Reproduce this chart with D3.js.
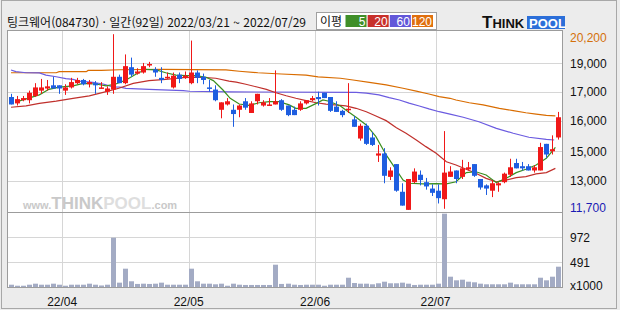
<!doctype html>
<html lang="ko">
<head>
<meta charset="utf-8">
<title>팅크웨어 일간 차트</title>
<script src="https://cdnjs.cloudflare.com/ajax/libs/d3/7.8.5/d3.min.js"></script>
<style>
  body { margin: 0; background: #ececec; }
  text { font-family: "Liberation Sans", "Noto Sans CJK KR", sans-serif; }
</style>
</head>
<body>
<svg width="620" height="310" id="svg"></svg>

<script>
// daily candles, 2022/03/21 ~ 2022/07/29 (92 trading days)
var openP = [17100,16800,16950,16950,17150,17400,17500,17650,17650,17400,
  17550,17750,17900,17700,17750,17500,17350,17450,18050,17750,
  18500,18200,18250,18600,18400,18000,18000,17550,18150,18000,
  17750,18250,18050,17550,17450,16500,16750,16500,16500,16900,
  16350,16900,16700,16700,16750,16950,16700,16500,16500,16800,
  16950,17100,17300,17100,16650,16450,16500,16050,15150,15750,
  15200,14350,14450,13350,13950,12650,11800,13100,13450,13100,
  12800,12700,12300,13350,13650,13350,13700,13950,13250,12950,
  12700,12950,13100,13450,14000,13850,13850,13650,13650,14900,
  14550,15200];
var highP = [17250,17150,17150,17400,17750,17950,17900,18050,17650,17700,
  18000,18000,17950,17900,17850,17800,17600,20050,18150,19100,
  18950,18450,18700,18750,18500,18500,18250,18250,18250,18300,
  19750,18350,18200,17900,17650,16850,17050,16750,16750,17050,
  16900,17250,16950,17050,18350,17000,16700,16650,16900,16950,
  17150,17350,17300,17100,16900,16500,17750,16200,15850,15850,
  15450,14850,14700,13800,13950,13050,13250,13750,13650,13300,
  13000,13000,15500,13850,13650,14150,14050,13950,13250,13000,
  13200,13100,13550,14200,14200,14050,13950,13900,14950,14900,
  15300,16400];
var lowP = [16750,16700,16900,16800,17100,17250,17400,17500,17250,17200,
  17500,17700,17650,17550,17250,17500,17200,17250,17750,17700,
  18050,18150,18200,18500,18050,17750,17950,17500,17750,17950,
  17700,17750,17700,17350,16900,16100,16700,15700,16150,16500,
  16350,16750,16650,16700,16750,16450,16200,16250,16450,16750,
  16900,16700,17050,16400,16400,16150,16350,15700,15050,14850,
  14800,14050,13050,13200,12650,12000,11800,13050,12950,12750,
  12450,12100,11850,13350,13050,13250,13650,13350,12750,12500,
  12400,12650,13050,13350,13750,13650,13650,13550,13650,14250,
  14400,15100];
var closeP = [16750,17000,17050,17300,17550,17550,17600,17500,17500,17550,
  17800,17900,17700,17800,17650,17550,17500,18050,17750,18550,
  18150,18300,18550,18650,18250,17900,18050,18100,17950,18100,
  18250,18000,17900,17500,16950,16850,16900,16300,16700,16600,
  16800,17250,16850,16750,16900,16500,16250,16250,16800,16950,
  17050,17000,17050,16450,16400,16250,16550,15700,15750,14900,
  14850,14450,13400,13650,12700,12000,13250,13600,13200,12900,
  12600,12350,13550,13600,13250,13750,13800,13400,12850,12800,
  13050,13050,13500,13800,13750,13750,13650,13800,14750,14400,
  14650,16150];
// volume, x1000 shares
var volume = [45,25,25,45,65,45,45,65,45,25,
  45,45,45,65,45,30,45,966,85,359,
  112,60,65,60,65,85,45,45,45,45,
  359,112,65,65,53,65,25,65,45,40,
  40,40,40,40,437,60,65,45,40,45,
  45,45,25,45,45,45,182,78,65,65,
  53,73,104,73,73,85,65,40,45,45,
  45,65,1437,202,131,143,104,92,65,53,
  53,53,53,85,53,53,53,53,182,131,
  202,398];

// moving averages: [day index, price]
var ma5 = [[1.3,16910],[4.7,17200],[6.3,17460],[8,17560],[10.3,17620],[12,17740],[14.1,17710],
  [15.8,17620],[17.4,17710],[19.1,17900],[20.8,18180],[22.4,18400],[24.1,18370],[25.7,18240],
  [27.4,18130],[29.1,18100],[30.7,18100],[32.4,18030],[33.6,17870],[35.2,17430],[36.4,17040],
  [37.9,16770],[39.5,16710],[41.2,16830],[42.9,16880],[44.5,16880],[46.2,16730],[47.3,16570],
  [49,16570],[50.7,16800],[51.8,16960],[52.8,16900],[54.7,16680],[55.6,16490],[57.3,16150],
  [59,15790],[60.6,15240],[62.3,14380],[64,13670],[65.1,13200],[66.1,13050],[68.4,13020],
  [70.6,13030],[72.3,13020],[73.9,13120],[75.6,13550],[77.2,13590],[78.9,13440],[80.6,13080],
  [82.2,13280],[83.9,13550],[85.5,13710],[87.2,13910],[88.9,14220],[90.4,14740]];
var ma20 = [[0,16620],[2.5,16680],[4.7,16800],[7.5,16910],[10.3,17040],[13,17150],[15.8,17350],
  [17.9,17510],[20.3,17740],[22.9,17870],[25.7,17930],[28.6,18010],[31.2,18030],[34,17980],
  [36.2,17850],[37.4,17800],[39,17700],[40.7,17580],[42.4,17460],[44,17300],[45.7,17160],
  [47.3,17040],[49,16930],[50.7,16830],[52.3,16770],[54.7,16710],[55.6,16680],[57.3,16570],
  [59,16410],[60.6,16210],[62.3,15990],[64,15660],[65.6,15400],[67.3,15080],[68.9,14770],
  [70.6,14460],[72.3,14060],[73.9,13910],[75.6,13710],[77.2,13520],[78.9,13280],[80.6,13120],
  [82.2,13200],[83.9,13310],[85.5,13360],[87.2,13490],[88.9,13550],[90.4,13750]];
var ma60 = [[0,18370],[0.8,18290],[2.5,18240],[4.7,18230],[5.8,18130],[7.5,18050],[9.1,17960],
  [10.3,17930],[11.3,17850],[13.6,17790],[15.3,17710],[16.9,17580],[18.1,17560],[19.1,17510],
  [22.9,17460],[28.6,17400],[29.6,17370],[36.4,17340],[57.3,17320],[59,17280],[61.1,17200],
  [62.8,17070],[64.5,16960],[66.1,16810],[67.8,16680],[69.4,16540],[71.1,16410],[72.9,16300],
  [75.1,16150],[77.7,15940],[80.6,15630],[83.4,15400],[86,15210],[88.9,15110],[90.2,15080]];
var ma120 = [[0,18240],[7.5,18240],[8,18290],[12.5,18290],[12.8,18350],[15,18350],[18,18380],
  [25,18400],[35.7,18370],[37.9,18310],[41,18240],[44.9,18180],[49,18130],[51,18050],
  [54.7,17980],[56.8,17900],[59.5,17790],[62.3,17670],[65.1,17510],[67.3,17380],[69.4,17240],
  [71.1,17120],[72.9,17040],[73.9,16960],[76.1,16830],[78.4,16730],[81.1,16570],[83.4,16460],
  [85.5,16360],[87.2,16300],[88.9,16240],[90.4,16210]];

var monthStart = [9, 30, 51, 71];
var monthLabels = ['22/04', '22/05', '22/06', '22/07'];
var priceGrid = [18680, 17340, 15990, 14550, 13170];
var priceGridLabels = ['19,000', '17,000', '16,000', '15,000', '13,000'];
var priceMax = 20200, priceMin = 11700;
var volGrid = [491, 972];

var svg = d3.select('#svg');
var plotL = 8, plotR = 562, plotT = 31, plotM = 212, plotB = 287;

var x = d3.scaleLinear().domain([-0.5, openP.length - 0.5]).range([plotL, plotR]);
var y = d3.scaleLinear().domain([priceMin, priceMax]).range([plotM, plotT]);
var yv = d3.scaleLinear().domain([0, 1470]).range([plotB, plotM]);
var px = function(i) { return Math.floor(x(i)); };

// frame
svg.append('rect').attr('x', 0).attr('y', 0).attr('width', 620).attr('height', 310).attr('fill', '#ececec');
svg.append('rect').attr('x', 1.5).attr('y', 0.5).attr('width', 615).attr('height', 308)
  .attr('fill', 'none').attr('stroke', '#a8a8a8');
svg.append('rect').attr('x', plotL).attr('y', plotT).attr('width', plotR - plotL).attr('height', plotB - plotT)
  .attr('fill', '#fff');

// grid
var grid = svg.append('g').attr('stroke', '#d6d6d6').attr('stroke-width', 1);
grid.selectAll('.hg').data(priceGrid).enter().append('line')
  .attr('x1', plotL).attr('x2', plotR)
  .attr('y1', function(d) { return Math.round(y(d)) + 0.5; })
  .attr('y2', function(d) { return Math.round(y(d)) + 0.5; });
grid.selectAll('.vg').data(volGrid).enter().append('line')
  .attr('x1', plotL).attr('x2', plotR)
  .attr('y1', function(d) { return Math.round(yv(d)) + 0.5; })
  .attr('y2', function(d) { return Math.round(yv(d)) + 0.5; });
grid.selectAll('.mg').data(monthStart).enter().append('line')
  .attr('x1', function(d) { return Math.round(x(d - 0.5)) + 0.5; })
  .attr('x2', function(d) { return Math.round(x(d - 0.5)) + 0.5; })
  .attr('y1', plotT).attr('y2', plotB);

// watermark
var wm = svg.append('text').attr('x', 23).attr('y', 209).attr('fill', '#c9c9c9');
wm.append('tspan').attr('font-size', 11).attr('font-weight', 'bold').text('www.');
wm.append('tspan').attr('font-size', 17).attr('font-weight', 'bold').text('THINK');
wm.append('tspan').attr('font-size', 17).attr('font-weight', 'bold').attr('fill', '#dedede').text('POOL');
wm.append('tspan').attr('font-size', 11).attr('font-weight', 'bold').text('.com');

// moving averages
var line = d3.line().x(function(d) { return x(d[0]); }).y(function(d) { return y(d[1]); });
var maSets = [[ma120, '#d96c00'], [ma60, '#6b5be0'], [ma20, '#c0302c'], [ma5, '#3b8f1f']];
svg.append('g').selectAll('path').data(maSets).enter().append('path')
  .attr('d', function(d) { return line(d[0]); })
  .attr('fill', 'none')
  .attr('stroke', function(d) { return d[1]; })
  .attr('stroke-width', 1.2);

// candles
var up = '#f01818', down = '#1e5ee0';
var colorOf = function(i) { return closeP[i] >= openP[i] ? up : down; };
var idx = d3.range(openP.length);
var candles = svg.append('g');
candles.selectAll('.wick').data(idx).enter().append('line')
  .attr('x1', function(i) { return px(i) + 0.5; })
  .attr('x2', function(i) { return px(i) + 0.5; })
  .attr('y1', function(i) { return y(highP[i]); })
  .attr('y2', function(i) { return y(lowP[i]); })
  .attr('stroke', colorOf).attr('stroke-width', 1);
candles.selectAll('.body').data(idx).enter().append('rect')
  .attr('x', function(i) { return px(i) - 2; })
  .attr('width', 5)
  .attr('y', function(i) { return y(Math.max(openP[i], closeP[i])); })
  .attr('height', function(i) { return Math.max(1.5, Math.abs(y(openP[i]) - y(closeP[i]))); })
  .attr('fill', colorOf);

// volume
svg.append('g').selectAll('rect').data(idx).enter().append('rect')
  .attr('x', function(i) { return px(i) - 2; })
  .attr('width', 5)
  .attr('y', function(i) { return yv(volume[i]); })
  .attr('height', function(i) { return plotB - yv(volume[i]); })
  .attr('fill', '#a3abc4');

// plot borders
var border = svg.append('g').attr('stroke', '#9c9c9c').attr('fill', 'none');
border.append('rect').attr('x', plotL - 0.5).attr('y', plotT - 0.5)
  .attr('width', plotR - plotL + 1).attr('height', plotB - plotT + 1);
border.append('line').attr('x1', plotL).attr('x2', plotR).attr('y1', plotM + 0.5).attr('y2', plotM + 0.5);

// right axis labels
var lab = svg.append('g').attr('font-size', 12).attr('fill', '#111');
lab.selectAll('.pl').data(priceGrid).enter().append('text')
  .attr('x', 570).attr('y', function(d) { return y(d) + 4.5; })
  .text(function(d, i) { return priceGridLabels[i]; });
lab.append('text').attr('x', 570).attr('y', y(priceMax) + 11).attr('fill', '#d4700a')
  .text(d3.format(',')(priceMax));
lab.append('text').attr('x', 570).attr('y', y(priceMin) - 0.5).attr('fill', '#1a1ab4')
  .text(d3.format(',')(priceMin));
lab.selectAll('.vl').data(volGrid).enter().append('text')
  .attr('x', 570).attr('y', function(d) { return yv(d) + 5; })
  .text(function(d) { return d; });
lab.append('text').attr('x', 570).attr('y', 290).text('x1000');

// month labels
svg.append('g').selectAll('text').data(monthStart).enter().append('text')
  .attr('x', function(d) { return x(d - 0.5); }).attr('y', 306)
  .attr('text-anchor', 'middle').attr('font-size', 12).attr('fill', '#111')
  .text(function(d, i) { return monthLabels[i]; });

// title
svg.append('text').attr('x', 7).attr('y', 27).attr('font-size', 12).attr('fill', '#111')
  .style('font-family', '"Noto Sans CJK KR", sans-serif')
  .text('팅크웨어(084730) · 일간(92일) 2022/03/21 ~ 2022/07/29');

// legend
var lg = svg.append('g');
lg.append('rect').attr('x', 316.5).attr('y', 12.5).attr('width', 120).attr('height', 17)
  .attr('fill', '#fff').attr('stroke', '#a0a0a0');
lg.append('text').attr('x', 320).attr('y', 26).attr('font-size', 12).attr('fill', '#111')
  .style('font-family', '"Noto Sans CJK KR", sans-serif').text('이평');
var legendItems = [['5', '#3f8f29'], ['20', '#c8302a'], ['60', '#6257d9'], ['120', '#e07010']];
var lx = d3.scaleBand().domain(legendItems.map(function(d) { return d[0]; })).range([345.5, 433]).paddingInner(0.05);
lg.selectAll('.lb').data(legendItems).enter().append('rect')
  .attr('x', function(d) { return lx(d[0]); }).attr('y', 15)
  .attr('width', lx.bandwidth()).attr('height', 12).attr('fill', function(d) { return d[1]; });
lg.selectAll('.lt').data(legendItems).enter().append('text')
  .attr('x', function(d) { return lx(d[0]) + lx.bandwidth() - 1; }).attr('y', 25.5)
  .attr('text-anchor', 'end').attr('font-size', 12).attr('fill', '#fff')
  .text(function(d) { return d[0]; });

// logo
var logo = svg.append('g');
logo.append('rect').attr('x', 527).attr('y', 16).attr('width', 38).attr('height', 13).attr('fill', '#2c6fd9');
var lt = logo.append('text').attr('x', 482).attr('y', 28).attr('font-weight', 'bold').attr('fill', '#111');
lt.append('tspan').attr('font-size', 17).text('T');
lt.append('tspan').attr('font-size', 13).text('HINK');
logo.append('text').attr('x', 529).attr('y', 28).attr('font-weight', 'bold').attr('font-size', 13)
  .attr('fill', '#fff').text('POOL');
</script>
</body>
</html>
